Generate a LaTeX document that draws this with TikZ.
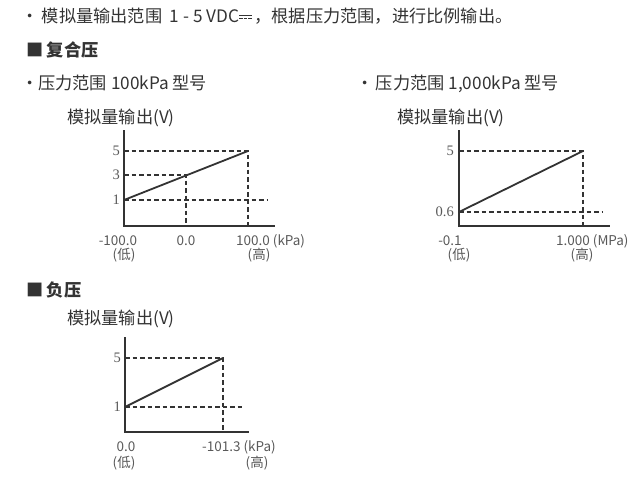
\documentclass[tikz,border=0pt]{standalone}
\usepackage{fontspec}
\setmainfont{Noto Sans CJK SC}
\newfontfamily\tickFont{Liberation Serif}
\usetikzlibrary{calc}
\newcommand{\lineColor}{black!80}
\newcommand{\textColor}{black!80}
\newcommand{\labelColor}{black!65}
% DC sign: solid bar over a dashed bar
\newcommand{\dcMark}{\raisebox{0.22em}{\vbox{\hrule width 0.72em height 0.07em \vskip 0.13em
    \hbox{\rule{0.2em}{0.07em}\hskip 0.06em\rule{0.2em}{0.07em}\hskip 0.06em\rule{0.2em}{0.07em}}}}}
\tikzset{
    axis/.style = {draw=\lineColor, line width=2pt},
    guide/.style = {draw=\lineColor, line width=1.6pt, dash pattern=on 4.5pt off 3pt},
    signal/.style = {draw=\lineColor, line width=1.8pt},
    body/.style = {font=\fontsize{17.2}{19}\selectfont, text=\textColor, inner sep=0pt, anchor=base west},
    heading/.style = {body, font=\fontsize{17.2}{19}\selectfont\bfseries},
    tick/.style = {font=\tickFont\fontsize{14.5}{15}\selectfont, text=\labelColor, inner sep=0pt, anchor=east},
    xlabel/.style = {font=\fontsize{13.5}{14}\selectfont, text=\labelColor, inner sep=0pt, anchor=base},
    xunit/.style = {xlabel, anchor=base west}
}

\begin{document}
\begin{tikzpicture}[x=1pt, y=-1pt]
        \useasboundingbox (0,0) rectangle (635,479);

        % texts
        \node[body] (intro) at (21,23) {•\hspace{0.2em}模拟量输出范围\ \ 1 - 5 VDC\dcMark\,，根据压力范围，进行比例输出。};
        \node[heading] (compound) at (26,56) {■\hspace{0.2em}复合压};
        \node[body] (rangeA) at (21,89) {•压力范围 100kPa 型号};
        \node[body] (rangeB) at (356,89) {•\hspace{0.15em}压力范围 1,000kPa 型号};
        \node[body] (outA) at (67,123) {模拟量输出(V)};
        \node[body] (outB) at (397,123) {模拟量输出(V)};
        \node[heading] (vacuum) at (26,296) {■\hspace{0.2em}负压};
        \node[body] (outC) at (67,324) {模拟量输出(V)};

        % Chart A: -100.0 .. 100.0 kPa
        \coordinate (A0) at (124,226);
        \coordinate (Atop) at (124,130);
        \coordinate (Aend) at (275,226);
        \coordinate (A1) at (124,200);
        \coordinate (A3) at (124,175);
        \coordinate (A5) at (124,151);
        \coordinate (Amid) at (186,175);
        \coordinate (Ahigh) at (248,151);

        \draw[guide] (A5) -- (Ahigh) -- (Ahigh |- A0);
        \draw[guide] (A3) -- (Amid) -- (Amid |- A0);
        \draw[guide] (A1) -- (267,200);
        \draw[axis] (Atop) -- (A0) -- (Aend);
        \draw[signal] (A1) -- (Ahigh);

        \node[tick] (tA5) at (120,151) {5};
        \node[tick] (tA3) at (120,175) {3};
        \node[tick] (tA1) at (120,200) {1};
        \node[xlabel] (xA1) at (118,245) {-100.0};
        \node[xlabel] (xA2) at (186,245) {0.0};
        \node[xunit] (xA3) at (236,245) {100.0 (kPa)};
        \node[xlabel] (lowA) at (124,259) {(低)};
        \node[xlabel] (highA) at (259,259) {(高)};

        % Chart B: -0.1 .. 1.000 MPa
        \coordinate (B0) at (459,226);
        \coordinate (Btop) at (459,130);
        \coordinate (Bend) at (610,226);
        \coordinate (B06) at (459,212);
        \coordinate (B5) at (459,151);
        \coordinate (Bhigh) at (583,151);

        \draw[guide] (B5) -- (Bhigh) -- (Bhigh |- B0);
        \draw[guide] (B06) -- (603,212);
        \draw[axis] (Btop) -- (B0) -- (Bend);
        \draw[signal] (B06) -- (Bhigh);

        \node[tick] (tB5) at (454,151) {5};
        \node[tick] (tB06) at (454,212) {0.6};
        \node[xlabel] (xB1) at (450,245) {-0.1};
        \node[xunit] (xB2) at (556,245) {1.000 (MPa)};
        \node[xlabel] (lowB) at (459,259) {(低)};
        \node[xlabel] (highB) at (582,259) {(高)};

        % Chart C: 0.0 .. -101.3 kPa
        \coordinate (C0) at (125,432);
        \coordinate (Ctop) at (125,337);
        \coordinate (Cend) at (249,432);
        \coordinate (C1) at (125,407);
        \coordinate (C5) at (125,358);
        \coordinate (Chigh) at (223,358);

        \draw[guide] (C5) -- (Chigh) -- (Chigh |- C0);
        \draw[guide] (C1) -- (244,407);
        \draw[axis] (Ctop) -- (C0) -- (Cend);
        \draw[signal] (C1) -- (Chigh);

        \node[tick] (tC5) at (121,358) {5};
        \node[tick] (tC1) at (121,407) {1};
        \node[xlabel] (xC1) at (126,451) {0.0};
        \node[xunit] (xC2) at (202,451) {-101.3 (kPa)};
        \node[xlabel] (lowC) at (124,467) {(低)};
        \node[xlabel] (highC) at (257,467) {(高)};
\end{tikzpicture}
\end{document}
